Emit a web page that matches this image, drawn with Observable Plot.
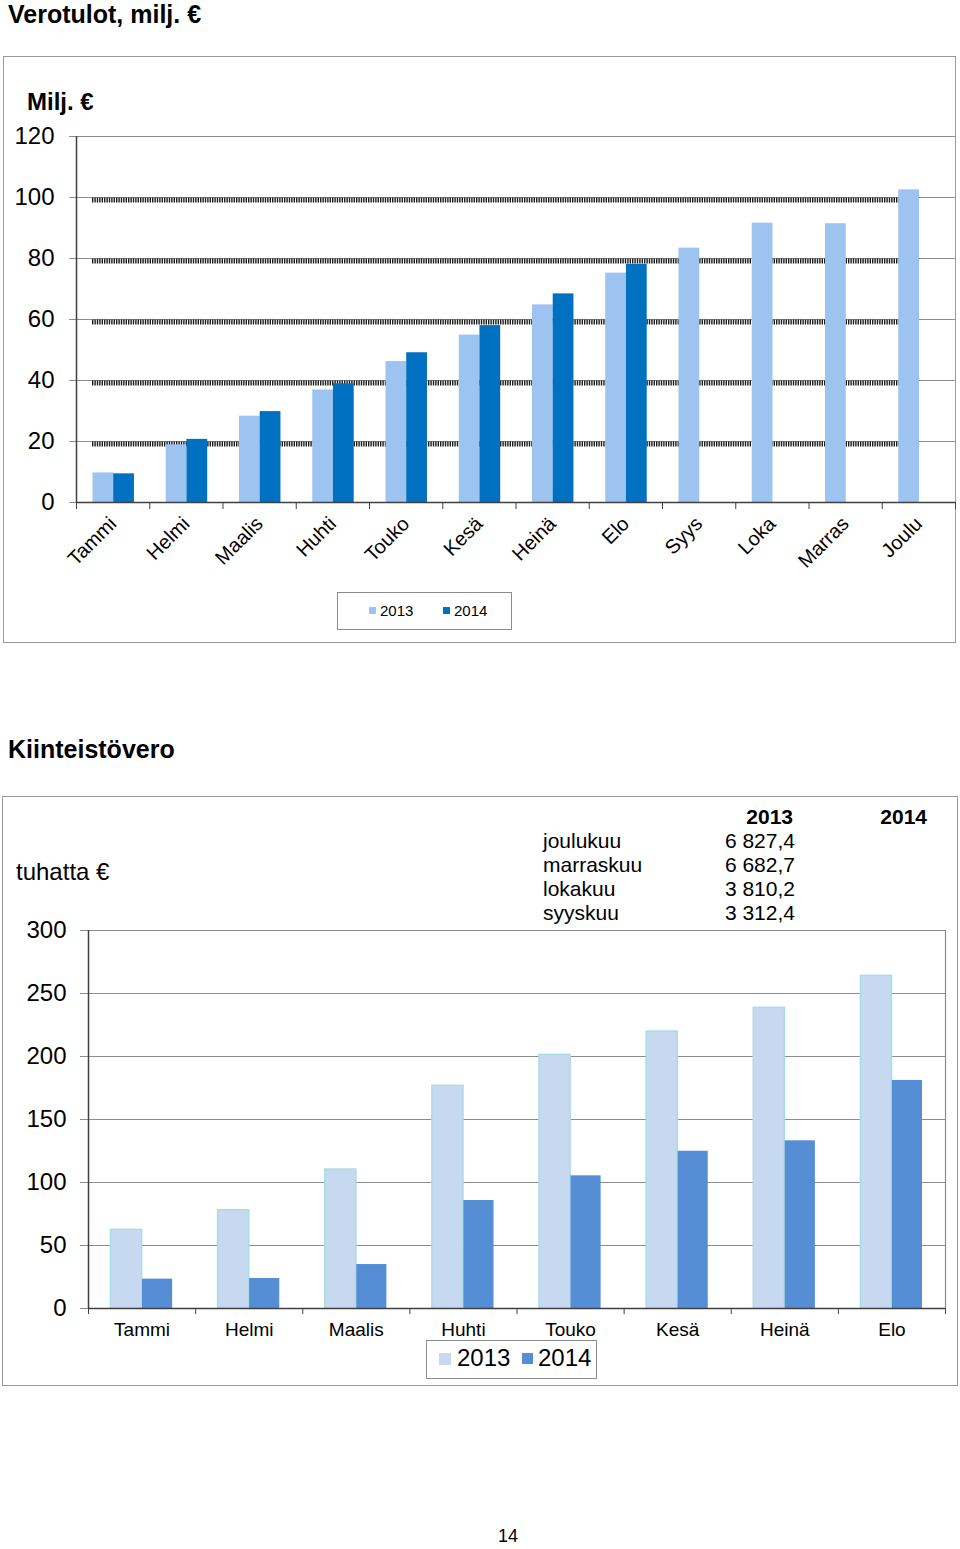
<!DOCTYPE html>
<html><head><meta charset="utf-8">
<script src="https://cdn.jsdelivr.net/npm/d3@7"></script>
<script src="https://cdn.jsdelivr.net/npm/@observablehq/plot@0.6"></script>
<style>
body{margin:0;background:#fff;font-family:"Liberation Sans",Arial,sans-serif;color:#000}
#page{position:relative;width:960px;height:1549px;overflow:hidden;background:#fff}
.t{position:absolute;white-space:nowrap;line-height:1.15}
.box{position:absolute;border:1.5px solid #9a9a9a;box-sizing:border-box}
.chart{position:absolute;left:0}
.chart svg{overflow:visible}
.sq{position:absolute}
</style></head><body><div id="page"></div>
<script>
// ---------- data ----------
const months1 = ["Tammi","Helmi","Maalis","Huhti","Touko","Kesä","Heinä","Elo","Syys","Loka","Marras","Joulu"];
const tax2013 = [9.7, 18.9, 28.3, 36.9, 46.2, 54.9, 64.8, 75.2, 83.4, 91.6, 91.4, 102.5];
const tax2014 = [9.4, 20.7, 29.8, 38.9, 49.1, 58.0, 68.4, 78.1];
const yTicks1 = [0, 20, 40, 60, 80, 100, 120];

const months2 = ["Tammi","Helmi","Maalis","Huhti","Touko","Kesä","Heinä","Elo"];
const prop2013 = [62.4, 78.0, 110.3, 176.7, 201.3, 219.8, 238.6, 264.0];
const prop2014 = [23.3, 23.8, 34.9, 85.7, 105.3, 124.8, 133.1, 181.0];
const yTicks2 = [0, 50, 100, 150, 200, 250, 300];

const seriesNames = ["2013", "2014"];
const tableMonths = ["joulukuu", "marraskuu", "lokakuu", "syyskuu"];
const table2013 = ["6 827,4", "6 682,7", "3 810,2", "3 312,4"];

const title1 = "Verotulot, milj. €";
const unit1 = "Milj. €";
const title2 = "Kiinteistövero";
const unit2 = "tuhatta €";
const pageNumber = "14";

// ---------- helpers ----------
const page = document.getElementById("page");
const FONT = "Liberation Sans, Arial, sans-serif";
function text(str, x, baseline, size, opts = {}) {
  const el = document.createElement("div");
  el.className = "t";
  el.textContent = str;
  el.style.fontSize = size + "px";
  el.style.fontWeight = opts.bold ? "bold" : "normal";
  el.style.top = (baseline - 0.9215 * size) + "px";
  if (opts.align === "right") { el.style.left = x + "px"; el.style.transform = "translateX(-100%)"; }
  else if (opts.align === "center") { el.style.left = x + "px"; el.style.transform = "translateX(-50%)"; }
  else el.style.left = x + "px";
  page.appendChild(el);
  return el;
}
function box(x, y, w, h, color = "#9a9a9a", bw = 1.5) {
  const el = document.createElement("div");
  el.className = "box";
  Object.assign(el.style, {left: x + "px", top: y + "px", width: w + "px", height: h + "px", borderColor: color, borderWidth: bw + "px"});
  page.appendChild(el);
  return el;
}
function square(x, y, s, color) {
  const el = document.createElement("div");
  el.className = "sq";
  Object.assign(el.style, {left: x + "px", top: y + "px", width: s + "px", height: s + "px", background: color});
  page.appendChild(el);
}
function mount(svg, top) {
  const wrap = document.createElement("div");
  wrap.className = "chart";
  wrap.style.top = top + "px";
  wrap.appendChild(svg);
  page.appendChild(wrap);
}

// ---------- chart 1 ----------
const c1a = "#9dc3f0", c1b = "#0070c0";
const rows1a = tax2013.map((v, i) => ({i, v}));
const rows1b = tax2014.map((v, i) => ({i, v}));
const bounds1 = months1.map((_, i) => i).concat(months1.length);
const centers1 = months1.map((_, i) => i + 0.5);

box(3, 56, 953, 587);
text(title1, 8, 23.5, 25, {bold: true});
text(unit1, 27, 110.5, 24, {bold: true});

const chart1 = Plot.plot({
  width: 960, height: 480,
  marginLeft: 76, marginRight: 5, marginTop: 16, marginBottom: 98,
  style: {fontFamily: FONT, background: "transparent", color: "#000"},
  x: {domain: [0, months1.length], axis: null, label: null},
  y: {domain: [0, 120], axis: null, label: null},
  marks: [
    Plot.gridY(yTicks1, {stroke: "#8c8c8c", strokeOpacity: 1, strokeWidth: 1}),
    Plot.ruleY(yTicks1.filter(v => v > 0 && v < 120), {stroke: "#1c1c1c", strokeWidth: 5, strokeDasharray: "1.4,1", dy: 2.5, insetLeft: 16, insetRight: 40}),
    Plot.rectY(rows1a, {x1: "i", x2: d => d.i + 1, y: "v", fill: c1a, insetLeft: 16.5, insetRight: 36}),
    Plot.rectY(rows1b, {x1: "i", x2: d => d.i + 1, y: "v", fill: c1b, insetLeft: 37.2, insetRight: 15.3}),
    Plot.axisY(yTicks1, {tickSize: 7, tickPadding: 15, fontSize: 24, stroke: "#8c8c8c", tickFormat: d => String(d)}),
    Plot.ruleX([0], {stroke: "#404040", strokeWidth: 1.5}),
    Plot.ruleY([0], {stroke: "#404040", strokeWidth: 1.5}),
    Plot.axisX(bounds1, {tickSize: 7, tickFormat: () => "", stroke: "#404040"}),
    Plot.axisX(centers1, {tickSize: 0, tickPadding: 18, tickRotate: -45, fontSize: 20, tickFormat: v => months1[Math.floor(v)]})
  ]
});
mount(chart1, 120);

// legend 1
box(337, 592, 175, 38, "#8c8c8c", 1.2);
square(369, 607, 7, c1a);
text(seriesNames[0], 380, 616, 15);
square(443, 607, 7, c1b);
text(seriesNames[1], 454, 616, 15);

// ---------- chart 2 ----------
const c2a = "#c6d9f1", c2aStroke = "#a9dde6", c2b = "#558ed5";
const rows2a = prop2013.map((v, i) => ({i, v}));
const rows2b = prop2014.map((v, i) => ({i, v}));
const bounds2 = months2.map((_, i) => i).concat(months2.length);
const centers2 = months2.map((_, i) => i + 0.5);

text(title2, 8, 758, 25, {bold: true});
box(2, 796, 956, 590);
text(unit2, 16, 880, 24);

// table
text(seriesNames[0], 793, 824, 21, {bold: true, align: "right"});
text(seriesNames[1], 927, 824, 21, {bold: true, align: "right"});
tableMonths.forEach((m, k) => {
  text(m, 543, 848 + k * 24, 21);
  text(table2013[k], 795, 848 + k * 24, 21, {align: "right"});
});

const chart2 = Plot.plot({
  width: 960, height: 460,
  marginLeft: 88, marginRight: 15, marginTop: 30, marginBottom: 52,
  style: {fontFamily: FONT, background: "transparent", color: "#000"},
  x: {domain: [0, months2.length], axis: null, label: null},
  y: {domain: [0, 300], axis: null, label: null},
  marks: [
    Plot.gridY(yTicks2, {stroke: "#8c8c8c", strokeOpacity: 1, strokeWidth: 1.2}),
    Plot.ruleX([months2.length], {stroke: "#8c8c8c", strokeWidth: 1.2}),
    Plot.rectY(rows2a, {x1: "i", x2: d => d.i + 1, y: "v", fill: c2a, stroke: c2aStroke, strokeWidth: 1.5, insetLeft: 22.5, insetRight: 53.5}),
    Plot.rectY(rows2b, {x1: "i", x2: d => d.i + 1, y: "v", fill: c2b, insetLeft: 54, insetRight: 23}),
    Plot.axisY(yTicks2, {tickSize: 8, tickPadding: 14, fontSize: 24, stroke: "#8c8c8c", tickFormat: d => String(d)}),
    Plot.ruleX([0], {stroke: "#404040", strokeWidth: 1.5}),
    Plot.ruleY([0], {stroke: "#404040", strokeWidth: 1.5}),
    Plot.axisX(bounds2, {tickSize: 6, tickFormat: () => "", stroke: "#404040"}),
    Plot.axisX(centers2, {tickSize: 0, tickPadding: 14, fontSize: 19, tickFormat: v => months2[Math.floor(v)]})
  ]
});
mount(chart2, 900);

// legend 2
const lg2 = box(426, 1340, 171, 39, "#8c8c8c", 1.2);
lg2.style.background = "#fff";
square(439, 1353, 12, c2a);
text(seriesNames[0], 457, 1366.5, 24);
square(522, 1353, 11, c2b);
text(seriesNames[1], 538, 1366.5, 24);

text(pageNumber, 508, 1543, 18, {align: "center"});
</script></body></html>
